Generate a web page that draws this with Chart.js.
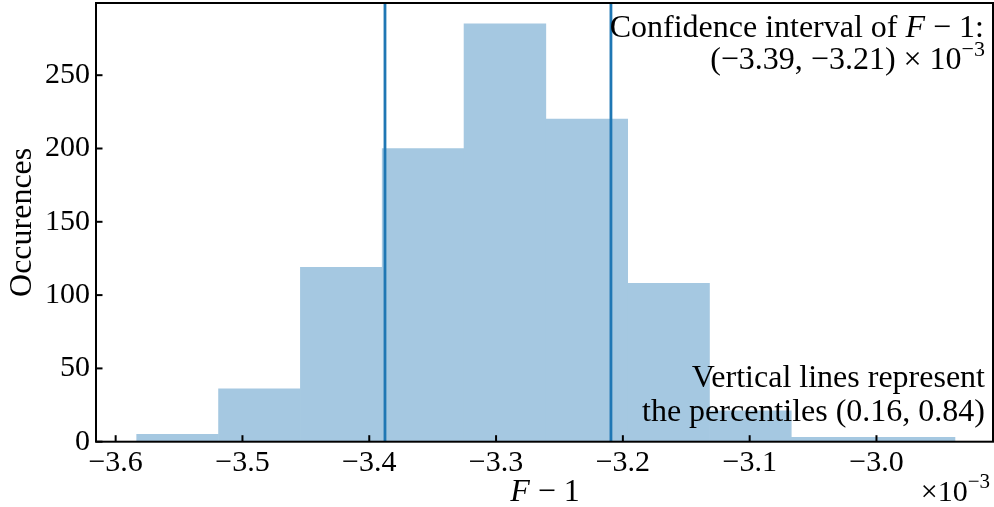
<!DOCTYPE html>
<html>
<head>
<meta charset="utf-8">
<script src="https://cdn.jsdelivr.net/npm/chart.js@4.4.0/dist/chart.umd.min.js"></script>
<style>
  html, body { margin: 0; padding: 0; background: #fff; }
  #wrap { width: 994px; height: 507px; }
</style>
</head>
<body>
<div id="wrap"><canvas id="hist" width="994" height="507"></canvas></div>
<script>
// F - 1 in units of 1e-3: histogram bin edges and counts
const binEdges = [-3.5834, -3.5189, -3.4543, -3.3898, -3.3253, -3.2607,
                  -3.1962, -3.1317, -3.0672, -3.0026, -2.9381];
const counts = [5, 36, 119, 200, 285, 220, 108, 21, 3, 3];
// 0.16 / 0.84 percentiles
const percentiles = [-3.3876, -3.2094];
const xTicks = [-3.6, -3.5, -3.4, -3.3, -3.2, -3.1, -3.0];
const yTicks = [0, 50, 100, 150, 200, 250];
const xRange = [-3.6155, -2.9081];
const yMax = 299.25;

const SERIF = "'Liberation Serif', 'DejaVu Serif', serif";
const BLUE = "#1f77b4";
const MINUS = "\u2212";

const barData = counts.map((c, i) => ({ x: (binEdges[i] + binEdges[i + 1]) / 2, y: c }));
const lineSets = percentiles.map(p => ({
  type: "line",
  data: [{ x: p, y: 0 }, { x: p, y: yMax }],
  borderColor: BLUE,
  borderWidth: 2.8,
  pointRadius: 0,
  order: 1
}));

// draw a row of text pieces (font / vertical shift each) ending at xRight
function drawRuns(ctx, runs, xRight, baseline) {
  let total = 0;
  runs.forEach(r => { ctx.font = r.font; total += ctx.measureText(r.text).width; });
  let x = xRight - total;
  ctx.textAlign = "left";
  ctx.textBaseline = "alphabetic";
  runs.forEach(r => {
    ctx.font = r.font;
    ctx.fillText(r.text, x, baseline + (r.dy || 0));
    x += ctx.measureText(r.text).width;
  });
}

const frame = {
  id: "frame",
  afterDatasetsDraw(chart) {
    const { ctx, chartArea: a, scales } = chart;
    ctx.save();
    ctx.strokeStyle = "#000";
    ctx.lineWidth = 2;
    // inward ticks
    xTicks.forEach(v => {
      const px = scales.x.getPixelForValue(v);
      ctx.beginPath(); ctx.moveTo(px, a.bottom); ctx.lineTo(px, a.bottom - 6.5); ctx.stroke();
    });
    yTicks.forEach(v => {
      const py = scales.y.getPixelForValue(v);
      ctx.beginPath(); ctx.moveTo(a.left, py); ctx.lineTo(a.left + 6.5, py); ctx.stroke();
    });
    ctx.strokeRect(a.left, a.top, a.right - a.left, a.bottom - a.top);
    ctx.restore();
  },
  afterDraw(chart) {
    const ctx = chart.ctx;
    const rm = "32px " + SERIF;
    const it = "italic 32px " + SERIF;
    const sup = "22px " + SERIF;
    ctx.save();
    ctx.fillStyle = "#000";
    drawRuns(ctx, [{ text: "Confidence interval of ", font: rm }, { text: "F", font: it },
                   { text: " " + MINUS + " 1:", font: rm }], 984, 37);
    drawRuns(ctx, [{ text: "(" + MINUS + "3.39, " + MINUS + "3.21) \u00d7 10", font: rm },
                   { text: MINUS + "3", font: sup, dy: -13 }], 985, 69);
    drawRuns(ctx, [{ text: "Vertical lines represent", font: rm }], 985, 387);
    drawRuns(ctx, [{ text: "the percentiles (0.16, 0.84)", font: rm }], 985, 421);
    // axis label and offset text
    const xt = [{ text: "F", font: it }, { text: " " + MINUS + " 1", font: rm }];
    let w = 0;
    xt.forEach(r => { ctx.font = r.font; w += ctx.measureText(r.text).width; });
    drawRuns(ctx, xt, 545 + w / 2, 501);
    drawRuns(ctx, [{ text: "\u00d710", font: "30px " + SERIF },
                   { text: MINUS + "3", font: "21px " + SERIF, dy: -13 }], 990, 501);
    ctx.restore();
  }
};

new Chart(document.getElementById("hist"), {
  type: "bar",
  data: {
    datasets: [{
      type: "bar",
      data: barData,
      backgroundColor: "#a5c8e1",
      borderWidth: 0,
      barPercentage: 1,
      categoryPercentage: 1,
      order: 2
    }, ...lineSets]
  },
  options: {
    responsive: false,
    devicePixelRatio: 1,
    animation: false,
    layout: { padding: { top: 3, right: 1, left: 0, bottom: 0 } },
    plugins: { legend: { display: false }, tooltip: { enabled: false } },
    scales: {
      x: {
        type: "linear",
        offset: false,
        min: xRange[0],
        max: xRange[1],
        grid: { display: false, drawTicks: false, offset: false },
        border: { display: false },
        afterBuildTicks: s => { s.ticks = xTicks.map(v => ({ value: v })); },
        afterFit: s => { s.height = 65.3; s.paddingLeft = 0; s.paddingRight = 0; },
        ticks: {
          padding: 3,
          color: "#000",
          font: { family: SERIF, size: 30 },
          maxRotation: 0,
          callback: v => (v < 0 ? MINUS : "") + Math.abs(v).toFixed(1)
        }
      },
      y: {
        min: 0,
        max: yMax,
        grid: { display: false, drawTicks: false },
        border: { display: false },
        afterBuildTicks: s => { s.ticks = yTicks.map(v => ({ value: v })); },
        afterFit: s => { s.width = 96; s.paddingTop = 0; s.paddingBottom = 0; },
        ticks: {
          padding: 6,
          color: "#000",
          font: { family: SERIF, size: 30 }
        },
        title: {
          display: true,
          text: "Occurences",
          color: "#000",
          font: { family: SERIF, size: 32 },
          padding: { top: 3, bottom: 0 }
        }
      }
    }
  },
  plugins: [frame]
});
</script>
</body>
</html>
